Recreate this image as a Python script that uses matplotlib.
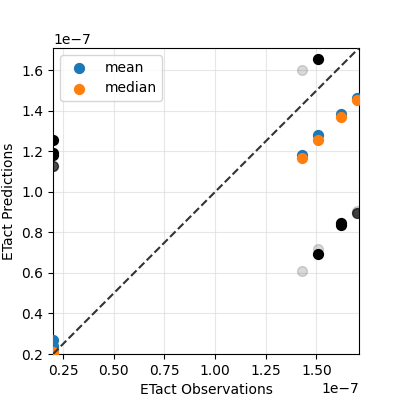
import matplotlib
matplotlib.use("Agg")
import matplotlib.pyplot as plt

obs = [0.2e-7, 0.2e-7, 0.2e-7, 1.43e-7, 1.51e-7, 1.62e-7, 1.70e-7]
mean_pred = [0.27e-7, 0.24e-7, 0.22e-7, 1.18e-7, 1.28e-7, 1.385e-7, 1.465e-7]
median_pred = [0.21e-7, 0.20e-7, 0.20e-7, 1.165e-7, 1.255e-7, 1.37e-7, 1.455e-7]

ind_x = [0.2e-7, 0.2e-7, 0.2e-7, 0.2e-7, 1.43e-7, 1.43e-7, 1.51e-7, 1.51e-7, 1.51e-7, 1.62e-7, 1.62e-7, 1.70e-7, 1.70e-7]
ind_y = [1.255e-7, 1.19e-7, 1.18e-7, 1.13e-7, 1.60e-7, 0.61e-7, 1.655e-7, 0.695e-7, 0.72e-7, 0.845e-7, 0.835e-7, 0.895e-7, 0.905e-7]
ind_a = [1.0, 1.0, 1.0, 0.7, 0.15, 0.15, 1.0, 1.0, 0.15, 1.0, 1.0, 0.7, 0.15]

fig, ax = plt.subplots(figsize=(4, 4), dpi=100)
fig.subplots_adjust(left=0.13, right=0.9, bottom=0.115, top=0.88)
for x, y, a in zip(ind_x, ind_y, ind_a):
    ax.scatter(x, y, color="black", alpha=a, s=50, zorder=2)
ax.scatter(obs, mean_pred, color="#1f77b4", s=50, label="mean", zorder=3)
ax.scatter(obs, median_pred, color="#ff7f0e", s=50, label="median", zorder=3)
lo, hi = 0.2e-7, 1.71e-7
ax.plot([lo, hi], [lo, hi], "--", color="#333333", zorder=4)
ax.set_xlim(lo, hi)
ax.set_ylim(lo, hi)
ax.set_aspect("equal")
ax.grid(True, color="#dddddd", alpha=0.7)
ax.set_axisbelow(True)
ax.set_xlabel("ETact Observations")
ax.set_ylabel("ETact Predictions")
ax.legend(loc="upper left")
fig.savefig("out.png")
